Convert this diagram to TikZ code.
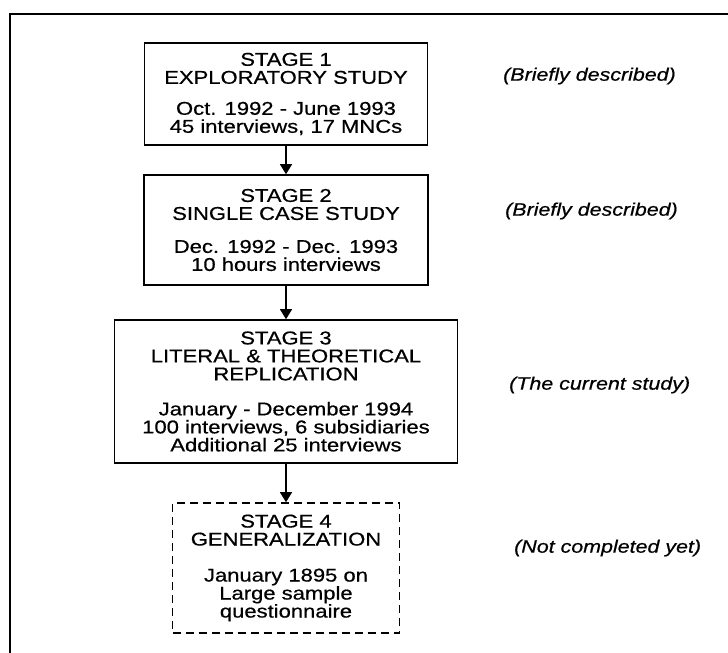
\documentclass[tikz,border=0pt]{standalone}
\usepackage{fontspec}
\setmainfont[FakeStretch=1.19, FakeBold=0.6]{Liberation Sans}
\usetikzlibrary{arrows.meta}
\begin{document}
\begin{tikzpicture}[x=1pt,y=-1pt,
  stagebox/.style={draw, line width=1.6pt, align=center, inner sep=0pt,
    font=\fontsize{18.5}{18}\selectfont},
  plannedbox/.style={stagebox, dash pattern=on 8pt off 5pt},
  notelabel/.style={anchor=west, inner sep=0pt,
    font=\fontsize{18}{18}\selectfont\itshape},
  flow/.style={line width=1.2pt, -{Triangle[length=10pt,width=12pt]}}]
\useasboundingbox (0,0) rectangle (728,653);

% outer frame (open to the right and below)
\draw[line width=2pt] (10,653) -- (10,14) -- (728,14);

% research stages
\node[stagebox, minimum width=283pt, minimum height=102pt] (s1) at (286,94)
  {STAGE 1\\EXPLORATORY STUDY\\[13pt]Oct. 1992 - June 1993\\45 interviews, 17 MNCs};
\node[stagebox, minimum width=284pt, minimum height=110pt] (s2) at (286,230)
  {STAGE 2\\SINGLE CASE STUDY\\[15pt]Dec. 1992 - Dec. 1993\\10 hours interviews};
\node[stagebox, minimum width=343pt, minimum height=143pt] (s3) at (286,391.5)
  {STAGE 3\\LITERAL \& THEORETICAL\\REPLICATION\\[17pt]January - December 1994\\100 interviews, 6 subsidiaries\\Additional 25 interviews};
\node[plannedbox, minimum width=227pt, minimum height=130pt] (s4) at (286,568)
  {STAGE 4\\GENERALIZATION\\[18pt]January 1895 on\\Large sample\\questionnaire};

% flow between stages
\draw[flow] (s1) -- (s2);
\draw[flow] (s2) -- (s3);
\draw[flow] (s3) -- (s4);

% status notes
\node[notelabel] (n1) at (503,76) {(Briefly described)};
\node[notelabel] (n2) at (505,211) {(Briefly described)};
\node[notelabel] (n3) at (509,385) {(The current study)};
\node[notelabel] (n4) at (514,548) {(Not completed yet)};
\end{tikzpicture}
\end{document}
